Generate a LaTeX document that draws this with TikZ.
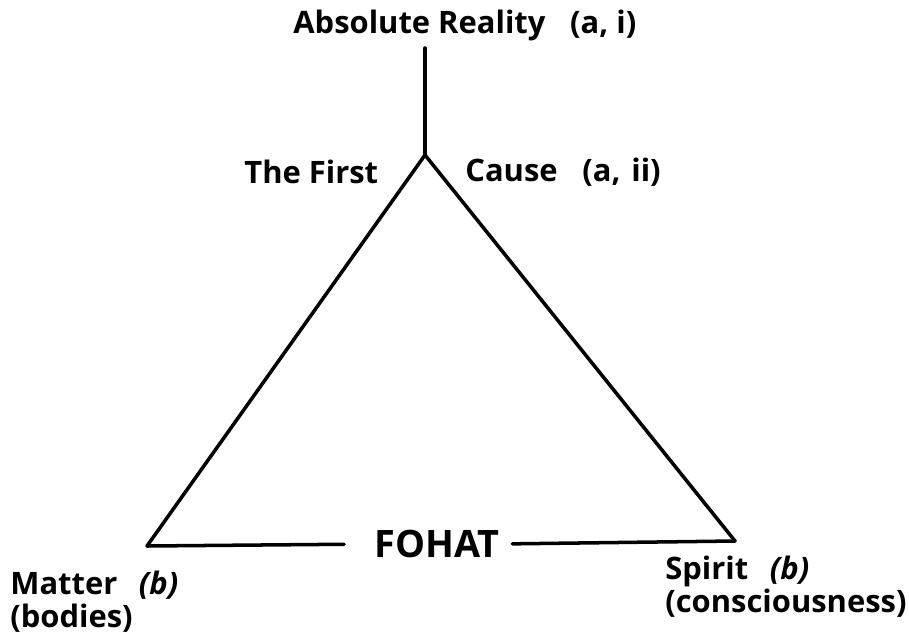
\documentclass[tikz,border=0pt]{standalone}
\usepackage{fontspec}
\setmainfont{Open Sans}
\usetikzlibrary{positioning}
\tikzstyle{caption} = [
    font=\bfseries\fontsize{17.6}{18.6}\selectfont,
    inner sep=0pt,
    anchor=base west
]
\tikzstyle{bigtext} = [
    font=\bfseries\fontsize{21.5}{24}\selectfont,
    inner sep=0pt
]
\tikzstyle{line} = [line width=2pt, line cap=round]

\begin{document}
\begin{tikzpicture}[x=0.02cm, y=-0.02cm]

\useasboundingbox (0,0) rectangle (909,636);

\coordinate (top) at (425,48);
\coordinate (apex) at (425,155);
\coordinate (matterpt) at (147,546);
\coordinate (spiritpt) at (735,541);

\node (absolute) [caption] at (293,33) {Absolute Reality\hspace{0.8em}(a, i)};
\node (first) [caption] at (244,183) {The First};
\node (cause) [caption] at (465,181) {Cause\hspace{0.8em}(a,\hspace{0.35em}ii)};

\node (fohat) [bigtext] at (437,544) {FOHAT};

\node (matter) [caption, align=left, anchor=north west] at (10,571)
{Matter\hspace{0.7em}\textit{(b)}\\(bodies)};
\node (spirit) [caption, align=left, anchor=north west] at (665,556)
{Spirit\hspace{0.7em}\textit{(b)}\\(consciousness)};

\draw [line] (top) -- (apex);
\draw [line] (apex) -- (matterpt);
\draw [line] (apex) -- (spiritpt);
\draw [line, shorten >=0.6cm] (matterpt) -- (fohat.west);
\draw [line, shorten >=0.25cm] (spiritpt) -- (fohat.east);

\end{tikzpicture}
\end{document}
